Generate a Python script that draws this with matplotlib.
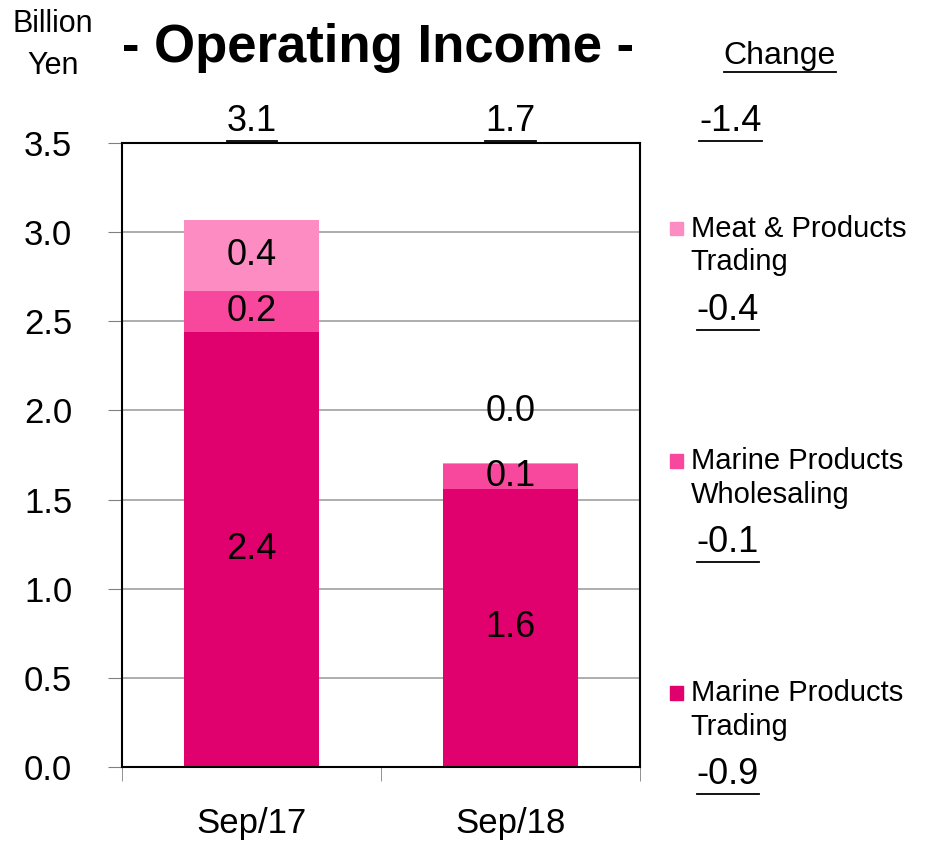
import matplotlib.pyplot as plt
import numpy as np
from matplotlib.patches import Rectangle
from matplotlib.lines import Line2D

plt.rcParams['font.family'] = ['Liberation Sans', 'DejaVu Sans']

periods = ['Sep/17', 'Sep/18']
segments = ['Marine Products\nTrading', 'Marine Products\nWholesaling', 'Meat & Products\nTrading']
trading = [2.44, 1.56]
wholesaling = [0.23, 0.14]
meat = [0.40, 0.005]
colors = ['#E0006E', '#F8489D', '#FD8CC3']

values = [trading, wholesaling, meat]
totals = np.sum(values, axis=0)
changes = [v[1] - v[0] for v in values]
total_change = totals[1] - totals[0]

fig = plt.figure(figsize=(9.26, 8.41), dpi=100)
ax = fig.add_axes([0.132, 0.088, 0.559, 0.742])

x = np.arange(len(periods))
bottom = np.zeros(len(periods))
for vals, col in zip(values, colors):
    ax.bar(x, vals, 0.52, bottom=bottom, color=col, zorder=2)
    for i, v in enumerate(vals):
        if v >= 0.1:
            ax.text(x[i], bottom[i] + v / 2, f'{v:.1f}', ha='center', va='center',
                    fontsize=26, zorder=3)
        else:
            # tiny segment: label sits above the bar
            ax.text(x[i], bottom[i] + v + 0.29, f'{v:.1f}', ha='center', va='center',
                    fontsize=26, zorder=3)
    bottom += np.array(vals)

ax.set_xlim(-0.5, 1.5)
ax.set_ylim(0, 3.5)
ax.set_yticks(np.arange(0, 3.51, 0.5))
ax.set_yticklabels([f'{t:.1f}' for t in np.arange(0, 3.51, 0.5)], fontsize=25)
ax.set_xticks(x)
ax.set_xticklabels(periods, fontsize=25)
ax.set_xticks([-0.5, 0.5, 1.5], minor=True)
ax.tick_params(axis='x', which='major', length=0, pad=29)
ax.tick_params(axis='x', which='minor', length=10, direction='out', color='#808080')
ax.tick_params(axis='y', length=10, direction='out', color='#808080', pad=26)
ax.yaxis.grid(True, color='#A0A0A0', lw=1.2, zorder=0)
for s in ax.spines.values():
    s.set_linewidth(1.5)
    s.set_color('black')

# titles
fig.text(0.057, 0.972, 'Billion', ha='center', va='center', fontsize=22)
fig.text(0.057, 0.922, 'Yen', ha='center', va='center', fontsize=22)
fig.text(0.408, 0.943, '- Operating Income -', ha='center', va='center',
         fontsize=38, fontweight='bold')

underlined = []
underlined.append(fig.text(0.842, 0.934, 'Change', ha='center', va='center', fontsize=23))
for i in range(len(periods)):
    px = ax.transData.transform((x[i], 0))[0] / fig.bbox.width
    underlined.append(fig.text(px, 0.855, f'{totals[i]:.1f}', ha='center',
                               va='center', fontsize=26))
underlined.append(fig.text(0.789, 0.855, f'{total_change:.1f}', ha='center',
                           va='center', fontsize=26))

# legend with per-segment change
legend_y = [0.728, 0.452, 0.176]
for lab, col, ch, ly in zip(segments[::-1], colors[::-1], changes[::-1], legend_y):
    fig.patches.append(Rectangle((0.724, ly - 0.008), 0.014, 0.016, color=col,
                                 transform=fig.transFigure, figure=fig))
    fig.text(0.746, ly, lab.split('\n')[0], ha='left', va='center', fontsize=21)
    fig.text(0.746, ly - 0.040, lab.split('\n')[1], ha='left', va='center', fontsize=21)
    underlined.append(fig.text(0.786, ly - 0.097, f'{ch:.1f}', ha='center',
                               va='center', fontsize=26))

fig.canvas.draw()
r = fig.canvas.get_renderer()
for t in underlined:
    bb = t.get_window_extent(r).transformed(fig.transFigure.inverted())
    fig.lines.append(Line2D([bb.x0, bb.x1], [bb.y0 - 0.002, bb.y0 - 0.002],
                            color='black', lw=1.3, transform=fig.transFigure))

fig.savefig('out.png', dpi=100)
